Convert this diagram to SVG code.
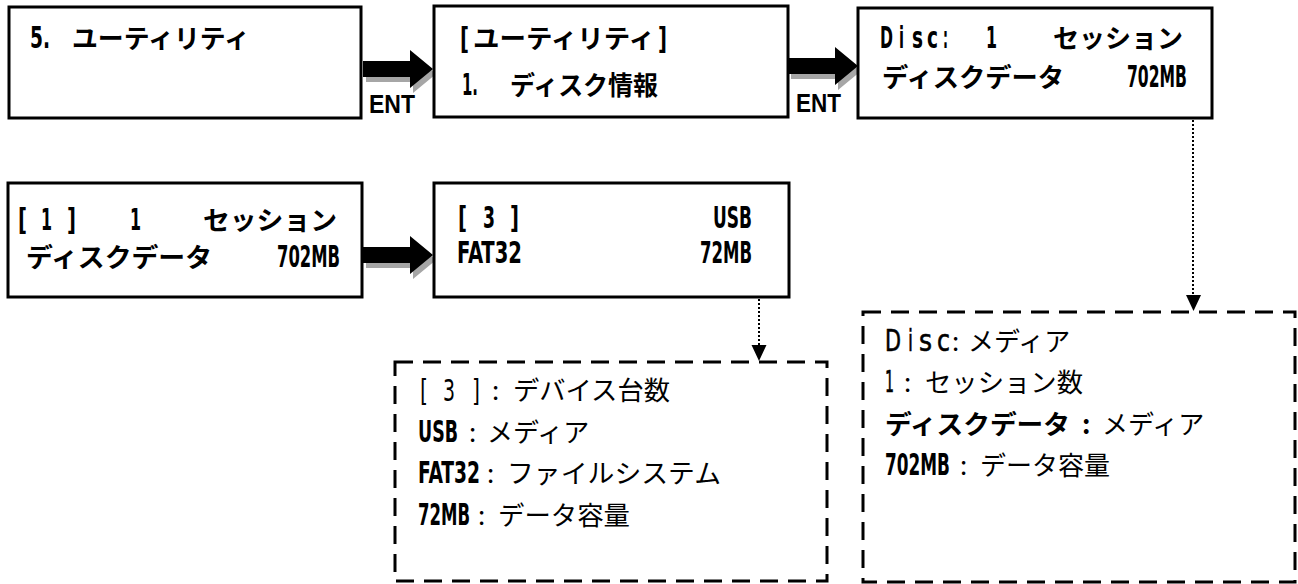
<svg xmlns="http://www.w3.org/2000/svg" width="1298" height="584" viewBox="0 0 1298 584">
<style>
.box{fill:#fff;stroke:#000;stroke-width:3}
.dbox{fill:none;stroke:#000;stroke-width:3;stroke-dasharray:18 10}
.t{font-family:"Noto Sans CJK JP","Noto Sans CJK SC",sans-serif;font-size:26px;font-weight:bold;fill:#000}
.r{font-family:"Noto Sans CJK JP","Noto Sans CJK SC",sans-serif;font-size:26px;font-weight:normal;fill:#000}
.L{font-family:"DejaVu Sans Condensed","DejaVu Sans",sans-serif;font-stretch:condensed;font-size:30px;font-weight:bold;fill:#000}
.Lr{font-family:"DejaVu Sans Condensed","DejaVu Sans",sans-serif;font-stretch:condensed;font-size:30px;font-weight:normal;fill:#000}
.Lm{font-family:"DejaVu Sans Condensed","DejaVu Sans",sans-serif;font-stretch:condensed;font-size:31px;font-weight:normal;fill:#000;stroke:#000;stroke-width:0.6}
.ent{font-family:"Liberation Sans",Arial,sans-serif;font-size:25px;font-weight:bold;fill:#000}
.dot{fill:none;stroke:#000;stroke-width:2;stroke-dasharray:2 2}
.sh{fill:#a6a6a6}
.ar{fill:#000}
</style>
<defs>
<polygon id="arrow" points="0,0 47,0 47,-11 70,8 47,27 47,16 0,16"/>
<polygon id="head" points="-7.5,0 7.5,0 0,16"/>
</defs>
<rect width="1298" height="584" fill="#fff"/>

<g id="connectors">
<g id="arrow1">
<use href="#arrow" x="366" y="66" class="sh"/>
<use href="#arrow" x="363" y="61" class="ar"/>
<text class="ent" x="369" y="113" textLength="46" lengthAdjust="spacingAndGlyphs">ENT</text>
</g>
<g id="arrow2">
<use href="#arrow" x="791" y="63" class="sh"/>
<use href="#arrow" x="788" y="58" class="ar"/>
<text class="ent" x="796" y="112" textLength="45" lengthAdjust="spacingAndGlyphs">ENT</text>
</g>
<g id="arrow3">
<use href="#arrow" x="366" y="252" class="sh"/>
<use href="#arrow" x="363" y="247" class="ar"/>
</g>
<line class="dot" x1="1193" y1="120" x2="1193" y2="296"/>
<use href="#head" x="1193.5" y="295" class="ar"/>
<line class="dot" x1="759" y1="299" x2="759" y2="346"/>
<use href="#head" x="759" y="345" class="ar"/>
</g>

<g id="node1">
<rect class="box" x="9" y="7" width="352" height="111"/>
<text class="L" x="30" y="48" textLength="20" lengthAdjust="spacingAndGlyphs">5.</text>
<text class="t" x="72" y="48" textLength="178" lengthAdjust="spacingAndGlyphs">ユーティリティ</text>
</g>

<g id="node2">
<rect class="box" x="434" y="6" width="354" height="111"/>
<text class="L" x="460" y="49" textLength="9" lengthAdjust="spacingAndGlyphs">[</text>
<text class="t" x="473" y="48" textLength="182" lengthAdjust="spacingAndGlyphs">ユーティリティ</text>
<text class="L" x="658" y="49" textLength="9" lengthAdjust="spacingAndGlyphs">]</text>
<text class="L" x="462" y="95" textLength="16" lengthAdjust="spacingAndGlyphs">1.</text>
<text class="t" x="510" y="95" textLength="148" lengthAdjust="spacingAndGlyphs">ディスク情報</text>
</g>

<g id="node3">
<rect class="box" x="858" y="8" width="354" height="110"/>
<text class="L" transform="translate(880 48) scale(0.58 1)" textLength="22.4" lengthAdjust="spacingAndGlyphs">D</text>
<text class="L" x="899" y="48" textLength="5" lengthAdjust="spacingAndGlyphs">i</text>
<text class="L" x="912" y="48" textLength="11" lengthAdjust="spacingAndGlyphs">s</text>
<text class="L" x="927" y="48" textLength="11" lengthAdjust="spacingAndGlyphs">c</text>
<text class="L" x="943" y="48" textLength="5" lengthAdjust="spacingAndGlyphs">:</text>
<text class="L" x="986" y="48" textLength="11" lengthAdjust="spacingAndGlyphs">1</text>
<text class="t" x="1053" y="48" textLength="130" lengthAdjust="spacingAndGlyphs">セッション</text>
<text class="t" x="882" y="87" textLength="182" lengthAdjust="spacingAndGlyphs">ディスクデータ</text>
<text class="L" x="1127" y="87" textLength="60" lengthAdjust="spacingAndGlyphs">702MB</text>
</g>

<g id="node4">
<rect class="box" x="8" y="183" width="354" height="114"/>
<text class="L" x="18" y="230" textLength="9" lengthAdjust="spacingAndGlyphs">[</text>
<text class="L" x="41" y="230" textLength="11" lengthAdjust="spacingAndGlyphs">1</text>
<text class="L" x="67" y="230" textLength="9" lengthAdjust="spacingAndGlyphs">]</text>
<text class="L" x="130" y="230" textLength="11" lengthAdjust="spacingAndGlyphs">1</text>
<text class="t" x="203" y="230" textLength="134" lengthAdjust="spacingAndGlyphs">セッション</text>
<text class="t" x="26" y="267" textLength="186" lengthAdjust="spacingAndGlyphs">ディスクデータ</text>
<text class="L" x="277" y="267" textLength="63" lengthAdjust="spacingAndGlyphs">702MB</text>
</g>

<g id="node5">
<rect class="box" x="434" y="183" width="355" height="114"/>
<text class="L" x="458" y="228" textLength="9" lengthAdjust="spacingAndGlyphs">[</text>
<text class="L" x="483" y="228" textLength="12" lengthAdjust="spacingAndGlyphs">3</text>
<text class="L" x="510" y="228" textLength="9" lengthAdjust="spacingAndGlyphs">]</text>
<text class="L" x="713" y="228" textLength="39" lengthAdjust="spacingAndGlyphs">USB</text>
<text class="L" x="457" y="263" textLength="65" lengthAdjust="spacingAndGlyphs">FAT32</text>
<text class="L" x="700" y="263" textLength="52" lengthAdjust="spacingAndGlyphs">72MB</text>
</g>

<g id="note1">
<rect class="dbox" x="395" y="362" width="432" height="219"/>
<text class="Lr" x="420" y="401" textLength="8" lengthAdjust="spacingAndGlyphs">[</text>
<text class="Lr" x="443" y="401" textLength="12" lengthAdjust="spacingAndGlyphs">3</text>
<text class="Lr" x="472" y="401" textLength="8" lengthAdjust="spacingAndGlyphs">]</text>
<text class="r" x="492" y="400">:</text>
<text class="r" x="513" y="400" textLength="157" lengthAdjust="spacingAndGlyphs">デバイス台数</text>
<text class="L" transform="translate(418 442) scale(0.645 1)" textLength="62" lengthAdjust="spacingAndGlyphs">USB</text>
<text class="r" x="469" y="442">:</text>
<text class="r" x="487" y="442">メディア</text>
<text class="L" transform="translate(418 483) scale(0.66 1)" textLength="94" lengthAdjust="spacingAndGlyphs">FAT32</text>
<text class="r" x="487" y="483">:</text>
<text class="r" x="507" y="483" textLength="214" lengthAdjust="spacingAndGlyphs">ファイルシステム</text>
<text class="L" transform="translate(418 525) scale(0.615 1)" textLength="84.5" lengthAdjust="spacingAndGlyphs">72MB</text>
<text class="r" x="478" y="525">:</text>
<text class="r" x="498" y="525" textLength="132" lengthAdjust="spacingAndGlyphs">データ容量</text>
</g>

<g id="note2">
<rect class="dbox" x="863" y="312" width="432" height="270"/>
<text class="Lm" x="885" y="351" textLength="16" lengthAdjust="spacingAndGlyphs">D</text>
<text class="Lm" x="908" y="351" textLength="5" lengthAdjust="spacingAndGlyphs">i</text>
<text class="Lm" x="919" y="351" textLength="13" lengthAdjust="spacingAndGlyphs">s</text>
<text class="Lm" x="937" y="351" textLength="13" lengthAdjust="spacingAndGlyphs">c</text>
<text class="r" x="952" y="351">:</text>
<text class="r" x="968" y="351">メディア</text>
<text class="Lm" x="885" y="392" textLength="9" lengthAdjust="spacingAndGlyphs">1</text>
<text class="r" x="904" y="392">:</text>
<text class="r" x="925" y="392" textLength="158" lengthAdjust="spacingAndGlyphs">セッション数</text>
<text class="t" x="885" y="434" textLength="185" lengthAdjust="spacingAndGlyphs">ディスクデータ</text>
<text class="t" x="1082" y="434">:</text>
<text class="r" x="1102" y="434">メディア</text>
<text class="L" transform="translate(885 475) scale(0.631 1)" textLength="103" lengthAdjust="spacingAndGlyphs">702MB</text>
<text class="r" x="960" y="475">:</text>
<text class="r" x="980" y="475" textLength="130" lengthAdjust="spacingAndGlyphs">データ容量</text>
</g>
</svg>
